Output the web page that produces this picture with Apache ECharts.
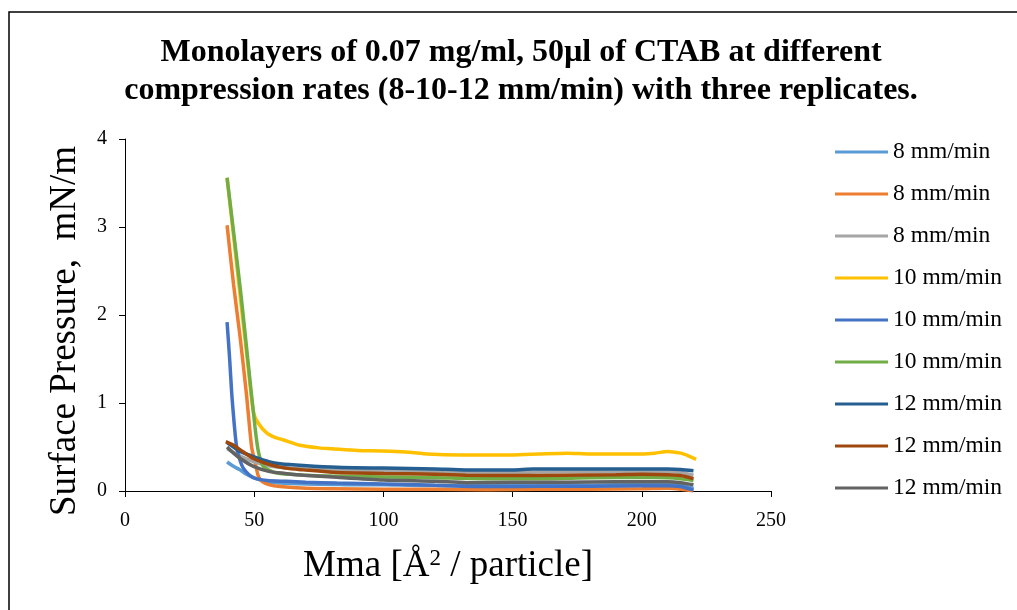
<!DOCTYPE html>
<html>
<head>
<meta charset="utf-8">
<script src="https://cdn.jsdelivr.net/npm/echarts@6/dist/echarts.min.js"></script>
<style>html,body{margin:0;padding:0;background:#fff;}#c{width:1017px;height:610px;}</style>
</head>
<body>
<div id="c"></div>
<script>
const titleLines = ['Monolayers of 0.07 mg/ml, 50µl of CTAB at different', 'compression rates (8-10-12 mm/min) with three replicates.'];
const seriesNames = ['8 mm/min','8 mm/min','8 mm/min','10 mm/min','10 mm/min','10 mm/min','12 mm/min','12 mm/min','12 mm/min'];
const seriesColors = ['#5B9BD5','#ED7D31','#A5A5A5','#FFC000','#4472C4','#70AD47','#255E91','#9E480E','#636363'];
const xTicks = [0, 50, 100, 150, 200, 250];
const yTicks = [0, 1, 2, 3, 4];

// [Mma, surface pressure] pairs
const rate8a = [[39.5,0.33],[42,0.28],[44.5,0.24],[47,0.19],[50,0.15],[53,0.12],[56,0.1],[60,0.09],[70,0.08],[80,0.075],[90,0.07],[100,0.07],[110,0.065],[120,0.062],[130,0.06],[140,0.06],[150,0.065],[160,0.064],[170,0.07],[180,0.066],[190,0.07],[200,0.07],[210,0.075],[215,0.065],[220,0.03]];
const rate8b = [[39.5,3.02],[42,2.35],[44.5,1.76],[47,1.1],[49,0.5],[50.3,0.33],[51.6,0.17],[53,0.11],[56,0.07],[60,0.05],[70,0.03],[80,0.025],[100,0.02],[120,0.02],[140,0.015],[160,0.02],[180,0.02],[200,0.025],[210,0.03],[215,0.02],[220,0.0]];
const rate8c = [[39.5,0.48],[42,0.44],[45,0.39],[50,0.33],[55,0.29],[60,0.27],[70,0.25],[80,0.24],[100,0.23],[120,0.22],[140,0.21],[150,0.21],[170,0.22],[190,0.215],[200,0.22],[210,0.22],[215,0.21],[220,0.18]];
const rate10a = [[39.5,3.56],[42,2.9],[45,2.1],[47.5,1.45],[49.7,0.9],[51.6,0.77],[54.8,0.66],[58,0.61],[61.3,0.58],[67.7,0.52],[75,0.49],[80,0.48],[90,0.46],[100,0.455],[110,0.44],[117,0.42],[130,0.41],[140,0.41],[150,0.41],[160,0.42],[171,0.43],[180,0.42],[190,0.42],[197,0.42],[205,0.43],[210,0.45],[215,0.43],[218,0.4],[221,0.36]];
const rate10b = [[39.5,1.92],[40.5,1.5],[41.3,1.11],[42.3,0.75],[43.2,0.5],[44.5,0.35],[46,0.25],[49.7,0.15],[55,0.12],[62.5,0.11],[70,0.1],[82,0.09],[100,0.08],[120,0.065],[140,0.05],[160,0.055],[180,0.055],[200,0.06],[210,0.06],[215,0.05],[220,0.01]];
const rate10c = [[39.5,3.56],[42,2.95],[45,2.2],[47.5,1.5],[50.3,0.73],[51.6,0.45],[53.5,0.28],[57,0.22],[60,0.2],[70,0.18],[80,0.17],[100,0.16],[120,0.15],[140,0.14],[160,0.14],[180,0.15],[200,0.155],[210,0.15],[215,0.14],[220,0.12]];
const rate12a = [[39.5,0.55],[42,0.5],[44.5,0.45],[49.7,0.39],[56,0.33],[60,0.31],[69,0.29],[82,0.27],[100,0.26],[110,0.255],[120,0.25],[132,0.24],[140,0.24],[150,0.24],[158,0.25],[170,0.25],[180,0.25],[190,0.25],[200,0.25],[210,0.25],[215,0.245],[220,0.23]];
const rate12b = [[39,0.56],[42,0.52],[44.5,0.47],[49.7,0.37],[56,0.3],[62,0.26],[69,0.24],[82,0.21],[100,0.2],[120,0.19],[132,0.18],[150,0.175],[170,0.18],[190,0.185],[200,0.19],[210,0.185],[215,0.175],[220,0.14]];
const rate12c = [[39.5,0.5],[42,0.43],[45,0.36],[49.7,0.28],[56,0.22],[62,0.2],[69,0.18],[82,0.155],[100,0.125],[120,0.11],[132,0.095],[150,0.1],[170,0.1],[190,0.105],[200,0.105],[210,0.105],[215,0.095],[220,0.07]];
const seriesData = [rate8a, rate8b, rate8c, rate10a, rate10b, rate10c, rate12a, rate12b, rate12c];

const FONT = '"Liberation Serif", "Times New Roman", serif';
const chart = echarts.init(document.getElementById('c'));
chart.setOption({
  backgroundColor: '#fff',
  animation: false,
  title: {
    text: titleLines.join('\n'),
    left: 516,
    textAlign: 'center',
    top: 29,
    padding: 5,
    textStyle: { fontFamily: FONT, fontSize: 32, fontWeight: 'bold', color: '#000', lineHeight: 38 }
  },
  graphic: [{
    type: 'rect', shape: { x: 9, y: 12, width: 1030, height: 620 },
    style: { fill: 'none', stroke: '#000', lineWidth: 1.5 }, silent: true
  }],
  legend: {
    orient: 'vertical', left: 830, top: 135,
    icon: 'rect', itemWidth: 53, itemHeight: 3, itemGap: 18,
    textStyle: { fontFamily: FONT, fontSize: 23.5, lineHeight: 24, color: '#000' },
    data: seriesNames.map((n, i) => ({ name: n + '\u200b'.repeat(i) }))
  },
  grid: { left: 125, right: 246, top: 139, bottom: 119, containLabel: false },
  xAxis: {
    type: 'value', min: xTicks[0], max: xTicks[xTicks.length - 1], interval: 50,
    name: '{a|Mma [Å}{s|2}{a| / particle]}', nameLocation: 'middle', nameGap: 56,
    nameTextStyle: { rich: {
      a: { fontFamily: FONT, fontSize: 37, color: '#000' },
      s: { fontFamily: FONT, fontSize: 23, color: '#000', verticalAlign: 'top', padding: [0, 0, 16, 0] }
    } },
    axisLine: { lineStyle: { color: '#000', width: 1 } },
    axisTick: { show: true, length: 6, lineStyle: { color: '#000' } },
    axisLabel: { fontFamily: FONT, fontSize: 20, color: '#000', margin: 20 },
    splitLine: { show: false }
  },
  yAxis: {
    type: 'value', min: yTicks[0], max: yTicks[yTicks.length - 1], interval: 1,
    name: 'Surface Pressure,  mN/m', nameLocation: 'middle', nameGap: 41,
    nameTextStyle: { fontFamily: FONT, fontSize: 37, color: '#000', padding: [0, 32, 0, 0] },
    axisLine: { show: true, lineStyle: { color: '#000', width: 1 } },
    axisTick: { show: true, length: 6, lineStyle: { color: '#000' } },
    axisLabel: { fontFamily: FONT, fontSize: 20, color: '#000', margin: 18 },
    splitLine: { show: false }
  },
  series: seriesData.map((d, i) => ({
    name: seriesNames[i] + '\u200b'.repeat(i),
    type: 'line',
    data: d,
    symbol: 'none',
    smooth: 0.25,
    lineStyle: { width: 3.5, color: seriesColors[i] },
    itemStyle: { color: seriesColors[i] },
    z: 2 + i
  }))
});
</script>
</body>
</html>
